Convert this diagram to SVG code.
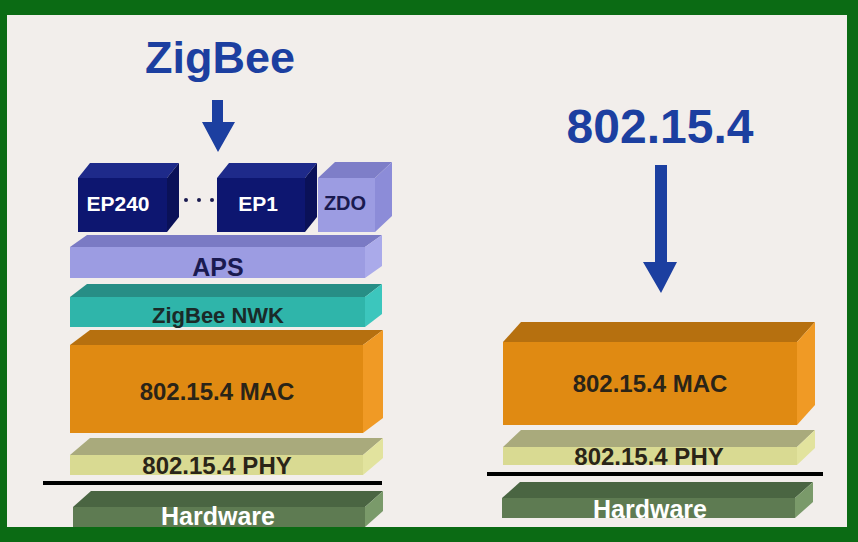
<svg xmlns="http://www.w3.org/2000/svg" width="858" height="542" viewBox="0 0 858 542">
<defs>
<style>
text{font-family:"Liberation Sans",Arial,sans-serif;font-weight:bold;text-anchor:middle}
.title{fill:#1c3fa0;font-size:45px}
.ep .f{fill:#0d1670}.ep .t{fill:#1e2a8a}.ep .r{fill:#0a1158}
.ep text{fill:#ffffff;font-size:21px}
.zdo .f{fill:#9c9ce2}.zdo .t{fill:#7e7ec8}.zdo .r{fill:#8c8cd8}
.aps .f{fill:#9c9ce2}.aps .t{fill:#7a7ac4}.aps .r{fill:#aaaaea}
.dark{fill:#1a1a50}
.nwk .f{fill:#2fb5aa}.nwk .t{fill:#278e86}.nwk .r{fill:#3cc6bd}
.mac .f{fill:#e08a12}.mac .t{fill:#b6700f}.mac .r{fill:#f09a25}
.phy .f{fill:#d9da92}.phy .t{fill:#a9aa7c}.phy .r{fill:#e2e39e}
.hw .f{fill:#5e7b52}.hw .t{fill:#4a6542}.hw .r{fill:#7a9a6a}
.lbl{fill:#2a2418;font-size:24px}
.hw text{fill:#ffffff;font-size:25px}
.arrow{fill:#1c3fa0}
.bar{stroke:#000;stroke-width:4}
</style>
</defs>
<rect x="0" y="0" width="858" height="542" fill="#f2eeeb"/>

<g id="title-zigbee"><text class="title" x="220" y="73">ZigBee</text></g>
<g id="title-802154"><text class="title" x="660" y="143" style="font-size:48px">802.15.4</text></g>

<g id="ep240" class="ep">
<polygon class="t" points="78,178 90,163 179,163 167,178"/>
<polygon class="r" points="167,178 179,163 179,217 167,232"/>
<rect class="f" x="78" y="178" width="89" height="54"/>
<text x="118" y="211">EP240</text>
</g>
<g id="dots" fill="#1a1a50">
<circle cx="186" cy="200" r="2"/><circle cx="199" cy="200" r="2"/><circle cx="212" cy="200" r="2"/>
</g>
<g id="ep1" class="ep">
<polygon class="t" points="217,178 229,163 317,163 305,178"/>
<polygon class="r" points="305,178 317,163 317,217 305,232"/>
<rect class="f" x="217" y="178" width="88" height="54"/>
<text x="258" y="211">EP1</text>
</g>
<g id="zdo" class="zdo">
<polygon class="t" points="318,178 335,162 392,162 375,178"/>
<polygon class="r" points="375,178 392,162 392,216 375,232"/>
<rect class="f" x="318" y="178" width="57" height="54"/>
<text class="dark" x="345" y="210" style="font-size:20px">ZDO</text>
</g>

<g id="aps" class="aps">
<polygon class="t" points="70,247 87,235 382,235 365,247"/>
<polygon class="r" points="365,247 382,235 382,266 365,278"/>
<rect class="f" x="70" y="247" width="295" height="31"/>
<text class="dark" x="218" y="276" style="font-size:25px">APS</text>
</g>
<g id="nwk" class="nwk">
<polygon class="t" points="70,297 87,284 382,284 365,297"/>
<polygon class="r" points="365,297 382,284 382,314 365,327"/>
<rect class="f" x="70" y="297" width="295" height="30"/>
<text class="dark" x="218" y="323" style="font-size:22px;fill:#1a2a28">ZigBee NWK</text>
</g>
<g id="mac-left" class="mac">
<polygon class="t" points="70,345 90,330 383,330 363,345"/>
<polygon class="r" points="363,345 383,330 383,418 363,433"/>
<rect class="f" x="70" y="345" width="293" height="88"/>
<text class="lbl" x="217" y="400">802.15.4 MAC</text>
</g>
<g id="phy-left" class="phy">
<polygon class="t" points="70,455 90,438 383,438 363,455"/>
<polygon class="r" points="363,455 383,438 383,458 363,475"/>
<rect class="f" x="70" y="455" width="293" height="20"/>
<text class="lbl" x="217" y="474">802.15.4 PHY</text>
</g>
<g id="hw-left" class="hw">
<polygon class="t" points="73,507 91,491 383,491 365,507"/>
<polygon class="r" points="365,507 383,491 383,511 365,527"/>
<rect class="f" x="73" y="507" width="292" height="22"/>
<text x="218" y="525">Hardware</text>
</g>

<g id="mac-right" class="mac">
<polygon class="t" points="503,342 521,322 815,322 797,342"/>
<polygon class="r" points="797,342 815,322 815,405 797,425"/>
<rect class="f" x="503" y="342" width="294" height="83"/>
<text class="lbl" x="650" y="392">802.15.4 MAC</text>
</g>
<g id="phy-right" class="phy">
<polygon class="t" points="503,447 521,430 815,430 797,447"/>
<polygon class="r" points="797,447 815,430 815,448 797,465"/>
<rect class="f" x="503" y="447" width="294" height="18"/>
<text class="lbl" x="649" y="465">802.15.4 PHY</text>
</g>
<g id="hw-right" class="hw">
<polygon class="t" points="502,498 520,482 813,482 795,498"/>
<polygon class="r" points="795,498 813,482 813,502 795,518"/>
<rect class="f" x="502" y="498" width="293" height="20"/>
<text x="650" y="518">Hardware</text>
</g>

<g id="connectors">
<polygon class="arrow" points="212,100 223,100 223,122 235,122 218,152 202,122 212,122"/>
<polygon class="arrow" points="655,165 667,165 667,262 677,262 661,293 643,262 655,262"/>
<line class="bar" x1="43" y1="483" x2="382" y2="483"/>
<line class="bar" x1="487" y1="474" x2="823" y2="474"/>
</g>

<path id="frame" fill="#0b6b14" fill-rule="evenodd" d="M0,0H858V542H0Z M7,15V527H847V15Z"/>
</svg>
